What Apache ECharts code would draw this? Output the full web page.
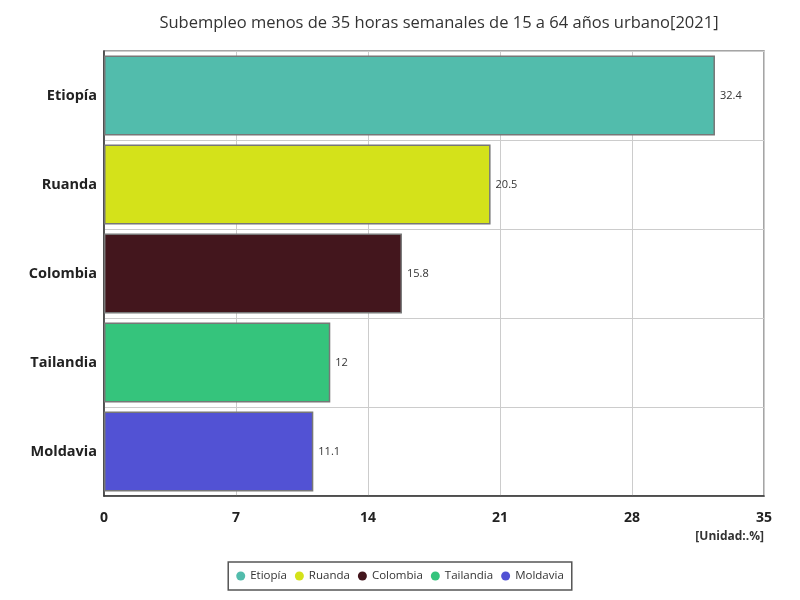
<!DOCTYPE html>
<html>
<head>
<meta charset="utf-8">
<script src="https://cdn.jsdelivr.net/npm/echarts@6/dist/echarts.min.js"></script>
<style>
  html, body { margin: 0; padding: 0; background: #fff; }
  #main { width: 800px; height: 600px; }
</style>
</head>
<body>
<div id="main"></div>
<script>
const titleText = 'Subempleo menos de 35 horas semanales de 15 a 64 años urbano[2021]'
const countries = ['Etiopía', 'Ruanda', 'Colombia', 'Tailandia', 'Moldavia']
const values = [32.4, 20.5, 15.8, 12, 11.1]
const colors = ['#52bcac', '#d4e21a', '#43161d', '#35c47c', '#5252d4']
const xTicks = [0, 7, 14, 21, 28, 35]

const font = '"Open Sans", "Noto Sans", sans-serif'
let chart = echarts.init(document.getElementById('main'))

// one series per country so the legend gets each colour
let series = countries.map((name, i) => ({
  name: name,
  type: 'bar',
  stack: 'all',
  barCategoryGap: '10%',
  data: countries.map((c, j) => (j === i ? values[i] : '-')),
  itemStyle: { color: colors[i], borderColor: '#777', borderWidth: 1.5 },
  label: {
    show: true,
    position: 'right',
    fontFamily: font,
    fontSize: 11,
    color: '#333',
  },
}))

chart.setOption({
  animation: false,
  title: {
    text: titleText,
    left: 434,
    textAlign: 'center',
    top: 10,
    textStyle: { fontFamily: font, fontSize: 16.5, fontWeight: 'normal', color: '#333' },
  },
  grid: { left: 104, right: 36, top: 51, bottom: 104, show: true, borderColor: '#888', borderWidth: 1.5 },
  xAxis: {
    type: 'value',
    min: xTicks[0],
    max: xTicks[xTicks.length - 1],
    interval: 7,
    name: '[Unidad:.%]',
    nameLocation: 'end',
    nameGap: 0,
    nameTextStyle: {
      fontFamily: font, fontSize: 12, fontWeight: 'bold', color: '#333',
      align: 'right', verticalAlign: 'top', padding: [35, 0, 0, 0],
    },
    axisLine: { show: true, lineStyle: { color: '#333', width: 1.5 } },
    axisTick: { show: false },
    axisLabel: { fontFamily: font, fontSize: 14, fontWeight: 'bold', color: '#222', margin: 15 },
    splitLine: { show: true, lineStyle: { color: '#ccc' } },
  },
  yAxis: {
    type: 'category',
    data: countries,
    inverse: true,
    axisLine: { show: true, lineStyle: { color: '#333', width: 1.5 } },
    axisTick: { show: false },
    axisLabel: { fontFamily: font, fontSize: 14.5, fontWeight: 'bold', color: '#222', margin: 7 },
    splitLine: { show: true, lineStyle: { color: '#ccc' } },
  },
  legend: {
    bottom: 10,
    left: 'center',
    itemWidth: 9,
    itemHeight: 9,
    itemGap: 8,
    icon: 'circle',
    itemStyle: { borderWidth: 0 },
    borderColor: '#555',
    borderWidth: 1.5,
    padding: [8, 8],
    textStyle: { fontFamily: font, fontSize: 11.5, color: '#333' },
    data: countries,
  },
  series: series,
})
</script>
</body>
</html>
